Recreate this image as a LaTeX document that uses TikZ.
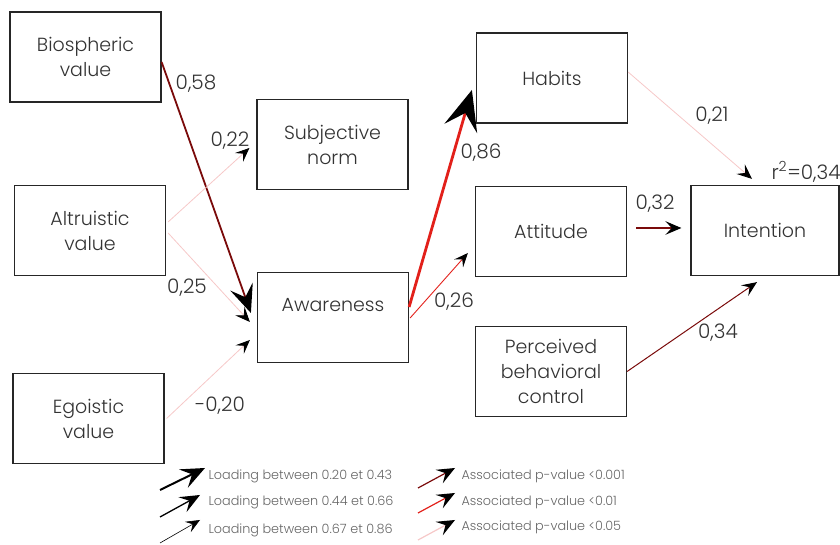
\documentclass[tikz,border=0pt]{standalone}
\usepackage{fontspec}
\setmainfont{Poppins Light}
\usepackage{tikz}
\usetikzlibrary{positioning,arrows.meta}

\definecolor{pdark}{HTML}{7A0A0A}
\definecolor{pred}{HTML}{E2201A}
\definecolor{ppale}{HTML}{F6C8C8}
\definecolor{txtgray}{HTML}{333333}

\begin{document}
\begin{tikzpicture}[
		x=1pt, y=1pt,
		box/.style={rectangle, draw=black!85, line width=1.2pt, minimum width=151pt, minimum height=90pt, align=center, font=\fontsize{19}{25}\selectfont, text=txtgray},
		coef/.style={font=\fontsize{20}{22}\selectfont, text=txtgray},
		legtext/.style={font=\fontsize{12.8}{15}\selectfont, text=black!60, anchor=west},
		path/.style={-{Stealth[length=#1, width=0.85*#1, inset=0.4*#1, color=black]}},
		path/.default=14pt
		]
		\useasboundingbox (0,0) rectangle (840,545);
		
		%==================== Nodes ====================%
		\node[box] (bio) at (85.5,488) {Biospheric\\value};
		\node[box] (altru) at (90,314.5) {Altruistic\\value};
		\node[box] (ego) at (88.5,126.5) {Egoistic\\value};
		
		\node[box] (subj) at (332.5,400.5) {Subjective\\norm};
		\node[box] (aware) at (333,227.5) {Awareness\\\mbox{}};
		
		\node[box] (habits) at (552,467) {Habits};
		\node[box] (att) at (551,313.5) {Attitude};
		\node[box] (pbc) at (551,173.5) {Perceived\\behavioral\\control};
		
		\node[box, minimum width=148pt] (int) at (765,314.5) {Intention};
		
		%==================== Coefficients ====================%
		\node[coef] (c58) at (196,461) {0,58};
		\node[coef] (c22) at (230,404) {0,22};
		\node[coef] (c25) at (187,257) {0,25};
		\node[coef] (c20) at (220,139) {-0,20};
		\node[coef] (c86) at (481,392) {0,86};
		\node[coef] (c26) at (454,243) {0,26};
		\node[coef] (c21) at (712,429) {0,21};
		\node[coef] (c32) at (655,341) {0,32};
		\node[coef] (c34) at (718,212) {0,34};
		\node[coef] (rsq) at (806,373) {r\textsuperscript{2}=0,34};
		
		%==================== Arrows ====================%
		\draw[path=28pt, pdark, line width=1.8pt] ([yshift=-5pt]bio.east) -- ([xshift=-6pt,yshift=4.5pt]aware.west);
		\draw[path=14pt, ppale, line width=0.8pt] ([xshift=2pt,yshift=8.5pt]altru.east) -- ([xshift=-7pt,yshift=-3.5pt]subj.west);
		\draw[path=15pt, ppale, line width=0.8pt] ([xshift=2pt,yshift=-2.5pt]altru.east) -- ([xshift=-7pt,yshift=-4.5pt]aware.west);
		\draw[path=14pt, ppale, line width=0.8pt] ([xshift=2pt]ego.east) -- ([xshift=-7pt,yshift=-22.5pt]aware.west);
		
		\draw[path=40pt, pred, line width=2.8pt] ([yshift=10.5pt]aware.east) -- ([xshift=-4pt,yshift=-12pt]habits.west);
		\draw[path=14pt, pred, line width=0.9pt] ([xshift=1pt,yshift=-0.5pt]aware.east) -- ([xshift=-7pt,yshift=-21.5pt]att.west);
		
		\draw[path=15pt, ppale, line width=0.8pt] ([yshift=6pt]habits.east) -- ([xshift=-13pt,yshift=6pt]int.north);
		\draw[path=16pt, pdark, line width=1.2pt] ([xshift=9pt,yshift=3.5pt]att.east) -- ([xshift=-9pt,yshift=2.5pt]int.west);
		\draw[path=15pt, pdark, line width=1pt] (pbc.east) -- ([xshift=-8pt,yshift=-6pt]int.south);
		
		%==================== Legend ====================%
		\coordinate (la1) at (160,55);  \coordinate (lb1) at (205,77);
		\coordinate (la2) at (160,28);  \coordinate (lb2) at (200,50);
		\coordinate (la3) at (160,2);   \coordinate (lb3) at (200,25);
		\draw[path=24pt, black, line width=2pt] (la1) -- (lb1);
		\draw[path=20pt, black, line width=1.3pt] (la2) -- (lb2);
		\draw[path=14pt, black, line width=0.6pt] (la3) -- (lb3);
		\node[legtext] (lt1) at (205,69) {Loading between 0.20 et 0.43};
		\node[legtext] (lt2) at (205,43) {Loading between 0.44 et 0.66};
		\node[legtext] (lt3) at (205,15) {Loading between 0.67 et 0.86};
		
		\coordinate (ra1) at (418,57);  \coordinate (rb1) at (455,77);
		\coordinate (ra2) at (418,32);  \coordinate (rb2) at (455,52);
		\coordinate (ra3) at (418,5);   \coordinate (rb3) at (455,25);
		\draw[path=18pt, pdark, line width=1.2pt] (ra1) -- (rb1);
		\draw[path=18pt, pred, line width=1.2pt] (ra2) -- (rb2);
		\draw[path=18pt, ppale, line width=1.2pt] (ra3) -- (rb3);
		\node[legtext] (rt1) at (458,69) {Associated p-value <0.001};
		\node[legtext] (rt2) at (458,43) {Associated p-value <0.01};
		\node[legtext] (rt3) at (458,18) {Associated p-value <0.05};
		
	\end{tikzpicture}
\end{document}
